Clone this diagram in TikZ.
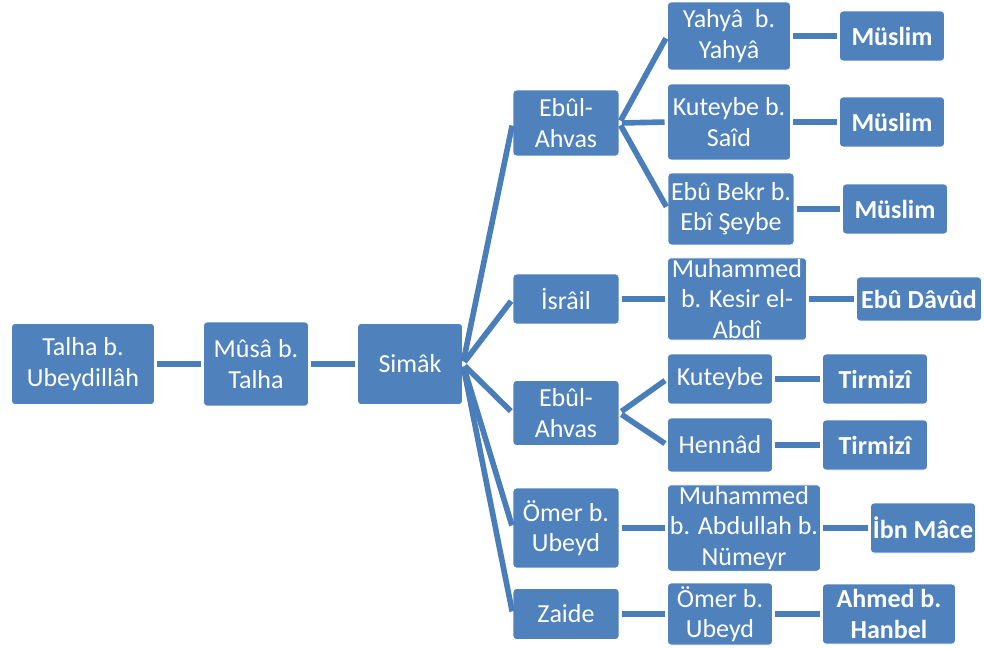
\documentclass[tikz,border=0pt]{standalone}
\usepackage{fontspec}
\setmainfont{Carlito}
\definecolor{boxblue}{HTML}{4F81BD}
\definecolor{lineblue}{HTML}{4A7EBB}
\tikzset{
  box/.style={rectangle, rounded corners=2pt, fill=boxblue, draw=white, thin, text=white,
    align=center, inner sep=1pt, font=\fontsize{14.8}{17.2}\selectfont},
  endbox/.style={box, font=\fontsize{14.8}{17.2}\selectfont\bfseries},
  link/.style={draw=lineblue, line width=3.2pt, shorten >=1.5pt, shorten <=1.5pt}
}
\begin{document}
\begin{tikzpicture}[x=0.02cm, y=-0.02cm]
        \useasboundingbox (0,0) rectangle (984,649);
        \node[box, minimum width=2.86cm, minimum height=1.62cm] (talha) at (83,364) {Talha b.\\Ubeydillâh};
        \node[box, minimum width=2.1cm, minimum height=1.68cm] (musa) at (256,364) {Mûsâ b.\\Talha};
        \node[box, minimum width=2.1cm, minimum height=1.62cm] (simak) at (410,364) {Simâk};

        \node[box, minimum width=2.12cm, minimum height=1.32cm] (ahvasa) at (566,123) {Ebûl-\\Ahvas};
        \node[box, minimum width=2.12cm, minimum height=1.0cm] (israil) at (566,299) {İsrâil};
        \node[box, minimum width=2.12cm, minimum height=1.3cm] (ahvasb) at (566,413) {Ebûl-\\Ahvas};
        \node[box, minimum width=2.12cm, minimum height=1.6cm] (omera) at (566,528) {Ömer b.\\Ubeyd};
        \node[box, minimum width=2.12cm, minimum height=1.02cm] (zaide) at (566,614) {Zaide};

        \node[box, minimum width=2.46cm, minimum height=1.36cm] (yahya) at (729,36) {Yahyâ\ \ b.\\Yahyâ};
        \node[box, minimum width=2.46cm, minimum height=1.52cm] (kuteybea) at (729,122) {Kuteybe b.\\Saîd};
        \node[box, minimum width=2.52cm, minimum height=1.44cm] (ebubekr) at (731,209) {Ebû Bekr b.\\Ebî Şeybe};
        \node[box, minimum width=2.78cm, minimum height=1.64cm] (kesir) at (737,299) {Muhammed\\b. Kesir el-\\Abdî};
        \node[box, minimum width=2.1cm, minimum height=1.0cm] (kuteybeb) at (720,379) {Kuteybe};
        \node[box, minimum width=2.1cm, minimum height=1.08cm] (hennad) at (720,445) {Hennâd};
        \node[box, minimum width=3.06cm, minimum height=1.68cm] (numeyr) at (744,528) {Muhammed\\b. Abdullah b.\\Nümeyr};
        \node[box, minimum width=2.1cm, minimum height=1.24cm] (omerb) at (720,614) {Ömer b.\\Ubeyd};

        \node[endbox, minimum width=2.1cm, minimum height=1.0cm] (muslima) at (892,36) {Müslim};
        \node[endbox, minimum width=2.1cm, minimum height=1.0cm] (muslimb) at (892,122) {Müslim};
        \node[endbox, minimum width=2.1cm, minimum height=1.0cm] (muslimc) at (895,209) {Müslim};
        \node[endbox, minimum width=2.5cm, minimum height=0.88cm] (ebudavud) at (919,299) {Ebû Dâvûd};
        \node[endbox, minimum width=2.1cm, minimum height=1.0cm] (tirmizia) at (875,379) {Tirmizî};
        \node[endbox, minimum width=2.1cm, minimum height=1.0cm] (tirmizib) at (875,445) {Tirmizî};
        \node[endbox, minimum width=2.1cm, minimum height=1.0cm] (ibnmace) at (923,528) {İbn Mâce};
        \node[endbox, minimum width=2.66cm, minimum height=1.2cm] (hanbel) at (889,614) {Ahmed b.\\Hanbel};

        \draw[link] (talha) -- (musa);
        \draw[link] (musa) -- (simak);
        \foreach \n in {ahvasa,israil,ahvasb,omera,zaide}
          \draw[link] (simak.east) -- (\n.west);
        \foreach \n in {yahya,kuteybea,ebubekr}
          \draw[link] (ahvasa.east) -- (\n.west);
        \foreach \n in {kuteybeb,hennad}
          \draw[link] (ahvasb.east) -- (\n.west);
        \draw[link] (israil) -- (kesir);
        \draw[link] (omera) -- (numeyr);
        \draw[link] (zaide) -- (omerb);
        \draw[link] (yahya) -- (muslima);
        \draw[link] (kuteybea) -- (muslimb);
        \draw[link] (ebubekr) -- (muslimc);
        \draw[link] (kesir) -- (ebudavud);
        \draw[link] (kuteybeb) -- (tirmizia);
        \draw[link] (hennad) -- (tirmizib);
        \draw[link] (numeyr) -- (ibnmace);
        \draw[link] (omerb) -- (hanbel);
\end{tikzpicture}
\end{document}
